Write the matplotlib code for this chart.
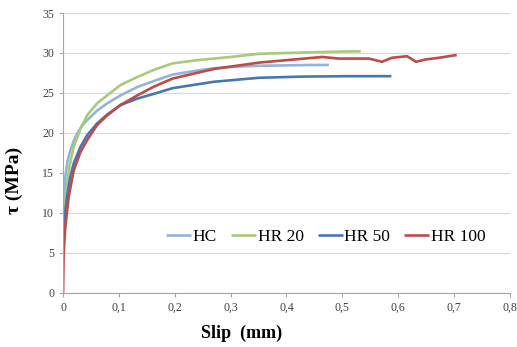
import matplotlib.pyplot as plt
from matplotlib.ticker import FuncFormatter

# values
hc_slip = [0, 0.002, 0.004, 0.008, 0.013, 0.019, 0.025, 0.034, 0.043, 0.061, 0.079, 0.103,
           0.133, 0.163, 0.196, 0.24, 0.27, 0.31, 0.351, 0.40, 0.44, 0.476]
hc_tau = [5.5, 11.5, 14.5, 16.5, 17.8, 19.0, 19.9, 20.9, 21.6, 22.8, 23.7, 24.7,
          25.75, 26.5, 27.3, 27.8, 28.1, 28.3, 28.4, 28.45, 28.5, 28.5]

hr20_slip = [0, 0.002, 0.004, 0.007, 0.012, 0.019, 0.031, 0.043, 0.061, 0.079, 0.103,
             0.133, 0.163, 0.196, 0.24, 0.30, 0.351, 0.40, 0.45, 0.512, 0.533]
hr20_tau = [5.5, 9.5, 11.8, 13.7, 16.0, 18.25, 20.5, 22.2, 23.7, 24.7, 26.0,
            27.0, 27.9, 28.7, 29.1, 29.5, 29.9, 30.0, 30.1, 30.2, 30.2]

hr50_slip = [0, 0.002, 0.004, 0.007, 0.012, 0.019, 0.031, 0.043, 0.061, 0.079, 0.103,
             0.133, 0.163, 0.196, 0.27, 0.351, 0.43, 0.512, 0.588]
hr50_tau = [5.0, 8.5, 10.3, 12.0, 14.2, 16.2, 18.25, 19.7, 21.2, 22.3, 23.5,
            24.3, 24.9, 25.6, 26.4, 26.9, 27.05, 27.1, 27.1]

hr100_slip = [0, 0.001, 0.004, 0.010, 0.019, 0.031, 0.043, 0.061, 0.079, 0.103, 0.133,
              0.163, 0.196, 0.27, 0.351, 0.432, 0.464, 0.494, 0.548, 0.571, 0.589,
              0.616, 0.632, 0.65, 0.673, 0.705]
hr100_tau = [0, 4.9, 8.25, 12.0, 15.3, 17.6, 19.1, 21.0, 22.2, 23.5, 24.7,
             25.8, 26.8, 28.0, 28.8, 29.3, 29.5, 29.3, 29.3, 28.9, 29.4,
             29.6, 28.9, 29.2, 29.4, 29.75]

labels = ['HC', 'HR 20', 'HR 50', 'HR 100']
colors = ['#95B3D7', '#A9C97C', '#4677B5', '#BE4B48']

plt.rcParams['font.family'] = ['Liberation Serif', 'DejaVu Serif']

fig = plt.figure(figsize=(5.17, 3.47), dpi=100)
ax = fig.add_axes([0.122, 0.156, 0.864, 0.8065])

series = [(hc_slip, hc_tau), (hr20_slip, hr20_tau), (hr50_slip, hr50_tau), (hr100_slip, hr100_tau)]
for (x, y), lab, col in zip(series, labels, colors):
    ax.plot(x, y, color=col, lw=1.9, label=lab, solid_capstyle='butt')

ax.set_xlim(0, 0.8)
ax.set_ylim(0, 35)
ax.set_xticks([i / 10 for i in range(9)])
ax.set_yticks(range(0, 36, 5))
ax.xaxis.set_major_formatter(FuncFormatter(lambda v, p: '0' if v == 0 else f'{v:.1f}'.replace('.', ',')))
ax.grid(axis='y', color='#D9D9D9', lw=0.9)
ax.set_axisbelow(True)
for s in ['top', 'right']:
    ax.spines[s].set_visible(False)
for s in ['left', 'bottom']:
    ax.spines[s].set_color('#A6A6A6')
ax.tick_params(colors='#A6A6A6', labelcolor='#404040', labelsize=8.5, length=3)

ax.set_xlabel('Slip  (mm)', fontsize=13, fontweight='bold')
ax.xaxis.set_label_coords(0.40, -0.115)
ax.set_ylabel('τ (MPa)', fontsize=14, fontweight='bold')
ax.yaxis.set_label_coords(-0.09, 0.40)

ax.legend(loc='center', bbox_to_anchor=(0.588, 0.2), ncol=4, frameon=False, fontsize=12.5,
          handlelength=1.45, handletextpad=0.1, columnspacing=0.8)

fig.savefig('out.png', dpi=100)
